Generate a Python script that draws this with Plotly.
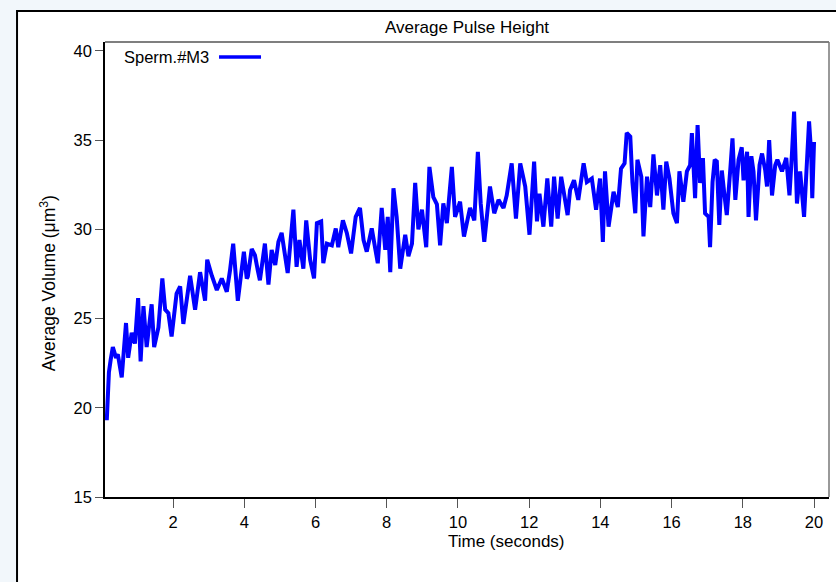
import plotly.graph_objects as go

# Time (s) and average volume (um^3)
time_s = [0.14, 0.20, 0.25, 0.31, 0.40, 0.45, 0.56, 0.68, 0.74, 0.84, 0.93, 1.02, 1.09, 1.17, 1.26,
          1.40, 1.47, 1.59, 1.70, 1.78, 1.87, 1.96, 2.10, 2.20, 2.29, 2.48, 2.62, 2.76, 2.90, 2.96,
          3.09, 3.23, 3.37, 3.51, 3.60, 3.69, 3.82, 3.99, 4.07,
          4.10, 4.21, 4.30, 4.38, 4.44, 4.58, 4.68, 4.77, 4.87, 4.96, 5.05, 5.22, 5.31, 5.38, 5.47,
          5.55, 5.66, 5.74, 5.85, 5.96, 6.04, 6.16, 6.22, 6.32, 6.46, 6.57, 6.64, 6.77, 6.88, 7.00,
          7.13, 7.25, 7.35, 7.44, 7.58, 7.65, 7.75, 7.86, 7.96, 8.03, 8.10, 8.19,
          8.28, 8.38, 8.52, 8.61, 8.71, 8.80, 8.89, 8.99, 9.11, 9.20, 9.31, 9.41, 9.50, 9.59, 9.69,
          9.83, 9.92, 10.06, 10.17, 10.34, 10.46, 10.56, 10.64, 10.74, 10.81, 10.90, 11.02, 11.14,
          11.28, 11.37, 11.51, 11.63, 11.75, 11.89, 12.01, 12.14, 12.22, 12.29,
          12.40, 12.51, 12.62, 12.70, 12.80, 12.90, 13.08, 13.15, 13.26, 13.38, 13.53, 13.62, 13.76,
          13.88, 13.99, 14.07, 14.13, 14.23, 14.37, 14.49, 14.58, 14.68, 14.74, 14.84, 14.90, 14.98,
          15.04, 15.15, 15.21, 15.31, 15.40, 15.49, 15.59, 15.68, 15.77, 15.85, 15.94, 16.05, 16.15,
          16.22, 16.33,
          16.43, 16.52, 16.57, 16.66, 16.73, 16.80, 16.88, 16.94, 17.04, 17.08, 17.15, 17.21, 17.27,
          17.34, 17.41, 17.48, 17.55, 17.65, 17.71, 17.79, 17.88, 17.97, 18.02, 18.12, 18.16, 18.24,
          18.30, 18.37, 18.47, 18.54, 18.63, 18.68, 18.74, 18.82, 18.91, 18.97, 19.10, 19.22, 19.31,
          19.38, 19.44, 19.52, 19.61, 19.72, 19.80, 19.86, 19.92, 19.95, 20.00]

volume = [19.3, 22.0, 22.7, 23.4, 22.8, 23.0, 21.7, 24.75, 22.8, 24.2, 23.6, 26.15, 22.6, 25.7, 23.4,
          25.8, 23.4, 24.5, 27.25, 25.5, 25.3, 24.0, 26.4, 26.8, 24.7, 27.4, 25.5, 27.6, 26.0, 28.3,
          27.4, 26.6, 27.25, 26.5, 27.7, 29.2, 26.0, 28.75, 27.25,
          27.35, 28.9, 28.55, 27.7, 27.15, 29.2, 26.9, 28.85, 28.0, 29.3, 29.8, 27.55, 29.4, 31.1, 27.9,
          29.4, 27.8, 30.5, 28.3, 27.25, 30.35, 30.45, 28.1, 29.2, 29.1, 30.05, 29.0, 30.5, 29.8, 28.65,
          30.7, 31.2, 29.4, 28.75, 30.05, 29.2, 28.1, 31.2, 28.85, 30.7, 27.6, 32.3,
          30.7, 27.8, 29.7, 28.5, 29.2, 32.6, 30.0, 31.1, 29.0, 33.5, 31.8, 31.4, 29.1, 31.45, 30.35,
          33.5, 30.7, 31.55, 29.6, 31.2, 30.5, 34.35, 31.45, 29.3, 30.5, 32.4, 30.9, 31.65,
          31.2, 31.9, 33.7, 30.6, 33.7, 32.4, 29.7, 33.8, 30.45, 32.0,
          30.15, 32.85, 30.15, 32.95, 30.6, 32.95, 30.8, 32.2, 32.75, 31.65, 33.7, 32.65, 32.85,
          31.1, 32.85, 29.3, 33.25, 30.15, 32.1, 31.25, 33.4, 33.7, 35.4, 35.2, 32.65, 30.9,
          33.9, 32.95, 29.6, 32.95, 31.25, 34.2, 31.9, 33.6, 31.1, 33.8, 32.85, 30.9, 30.35,
          33.25, 31.55,
          33.25, 33.6, 35.4, 31.75, 35.85, 32.6, 34.0, 30.9, 30.7, 29.0, 32.65, 33.9, 33.8,
          30.25, 33.3, 32.0, 30.8, 33.4, 35.1, 31.65, 33.9, 34.6, 32.75, 34.35, 30.7, 34.1,
          33.25, 30.5, 33.6, 34.25, 33.3, 32.4, 35.0, 31.9, 33.6, 33.9, 33.25, 34.0, 31.9,
          34.25, 36.6, 31.45, 33.25, 30.7, 34.1, 36.05, 34.25, 31.75, 34.9]

series_name = "Sperm.#M3"
x_ticks = [2, 4, 6, 8, 10, 12, 14, 16, 18, 20]
y_ticks = [15, 20, 25, 30, 35, 40]

FONT = "Liberation Sans, Arial, sans-serif"
BG = "#f2f7fb"
BLUE = "#0000ff"

fig = go.Figure()
fig.add_trace(go.Scatter(
    x=time_s, y=volume, mode="lines", name=series_name,
    line=dict(color=BLUE, width=4),
))

# white panel with black border behind the chart
fig.add_shape(type="rect", xref="paper", yref="paper",
              x0=-0.1215, x1=1.03, y0=-0.21, y1=1.068,
              line=dict(color="black", width=2), fillcolor="white", layer="below")
# legend sample line (drawn after the label, as in the reference)
fig.add_shape(type="line", xref="paper", yref="paper",
              x0=0.1575, x1=0.2155, y0=0.967, y1=0.967,
              line=dict(color=BLUE, width=3.5))
# gray top/right frame
fig.add_shape(type="line", xref="paper", yref="paper", x0=0, x1=1, y0=1, y1=1,
              line=dict(color="#555", width=1.5))
fig.add_shape(type="line", xref="paper", yref="paper", x0=1, x1=1, y0=0, y1=1,
              line=dict(color="#777", width=1.5))

fig.update_layout(
    width=836, height=582,
    margin=dict(l=105, r=7, t=42, b=85),
    paper_bgcolor=BG,
    plot_bgcolor="white",
    font=dict(family=FONT, size=16.5, color="black"),
    title=dict(text="Average Pulse Height", x=0.5, xref="paper", y=0.9536, yref="container",
               xanchor="center", yanchor="middle", font=dict(size=17, family=FONT, color="black")),
    showlegend=False,
    xaxis=dict(range=[0.09, 20.42], tickvals=x_ticks, ticks="outside", ticklen=9, tickcolor="#555",
               showline=True, linecolor="black", linewidth=1.5, mirror=False, showgrid=False,
               zeroline=False, tickfont=dict(size=16.5)),
    yaxis=dict(range=[15, 40.5], tickvals=y_ticks, ticks="outside", ticklen=8, tickcolor="#555",
               showline=True, linecolor="black", linewidth=1.5, mirror=False, showgrid=False,
               zeroline=False, tickfont=dict(size=16.5)),
    annotations=[
        dict(text=series_name, xref="paper", yref="paper", x=0.0235, y=0.967,
             xanchor="left", yanchor="middle", showarrow=False, font=dict(size=16.5, family=FONT)),
        dict(text="Time (seconds)", xref="paper", yref="paper", x=0.555, y=-0.098,
             xanchor="center", yanchor="middle", showarrow=False, font=dict(size=17, family=FONT)),
        dict(text="Average Volume (μm<sup>3</sup>)", xref="paper", yref="paper",
             x=-0.0787, y=0.47, xanchor="center", yanchor="middle", textangle=-90,
             showarrow=False, font=dict(size=17.5, family=FONT)),
    ],
)

fig.write_html("out.html", config={"displayModeBar": False},
               post_script="document.body.style.margin='0';document.body.style.background='%s';" % BG)
